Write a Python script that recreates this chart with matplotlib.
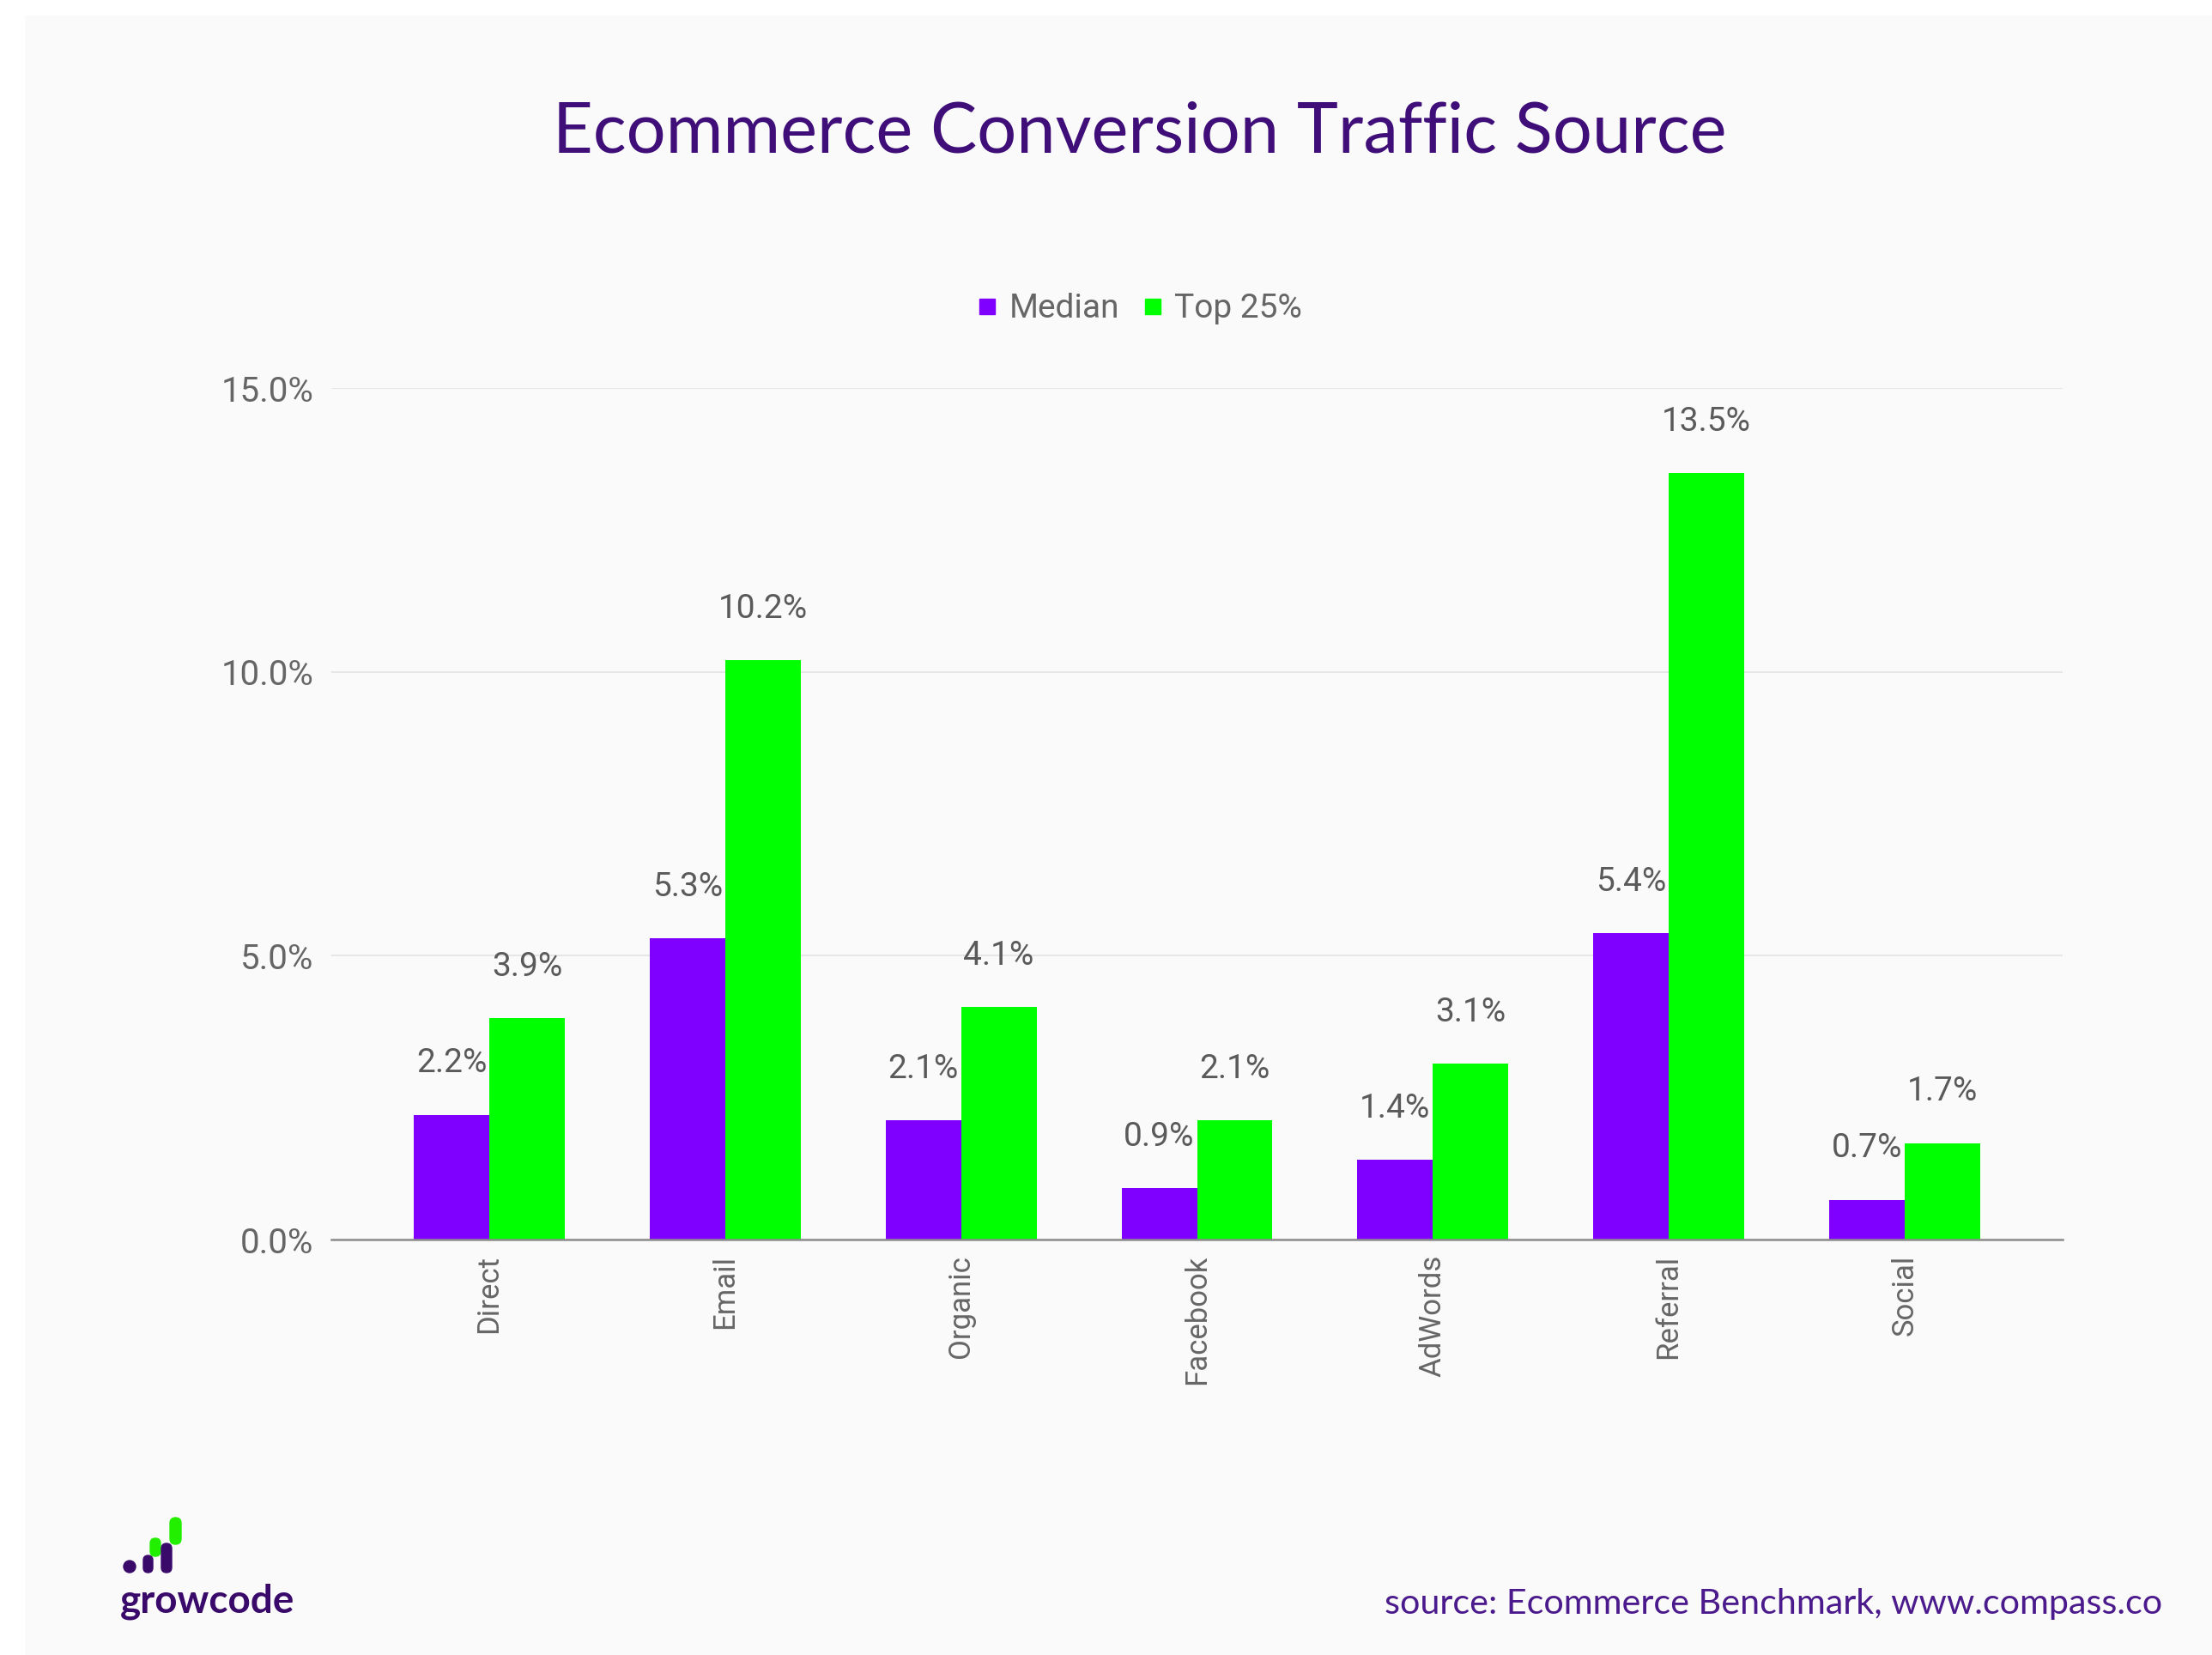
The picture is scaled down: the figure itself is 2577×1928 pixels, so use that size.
import matplotlib
matplotlib.use("Agg")
import matplotlib.pyplot as plt
from matplotlib.patches import Rectangle, FancyBboxPatch, Circle
from matplotlib.lines import Line2D
import numpy as np

# daten
sources = ["Direct", "Email", "Organic", "Facebook", "AdWords", "Referral", "Social"]
median = [2.2, 5.3, 2.1, 0.9, 1.4, 5.4, 0.7]
top25 = [3.9, 10.2, 4.1, 2.1, 3.1, 13.5, 1.7]
yticks = [0, 5, 10, 15]

PURPLE = "#8000ff"
GREEN = "#00ff00"
W, H = 2577, 1928

fig = plt.figure(figsize=(W / 100, H / 100), dpi=100, facecolor="white")
# hellgrauer Hintergrund
fig.patches.append(Rectangle((29 / W, 0), 1, 1 - 18 / H, transform=fig.transFigure,
                             facecolor="#fafafa", edgecolor="none", zorder=-10))

ax = fig.add_axes([386 / W, 1 - 1444 / H, (2403 - 386) / W, (1444 - 452) / H])
ax.set_facecolor("none")

x = np.arange(len(sources))
bw = 0.32
b1 = ax.bar(x - bw / 2, median, bw, color=PURPLE, zorder=3)
b2 = ax.bar(x + bw / 2, top25, bw, color=GREEN, zorder=3)

for bars, vals in [(b1, median), (b2, top25)]:
    for r, v in zip(bars, vals):
        ax.annotate(f"{v:.1f}%", (r.get_x() + r.get_width() / 2, v), xytext=(0, 43),
                    textcoords="offset points", ha="center", va="center",
                    fontsize=28, color="#5a5a5a", family="Roboto", zorder=4)

ax.set_xlim(-0.67, 6.67)
ax.set_ylim(0, 15)
ax.set_yticks(yticks)
ax.set_yticklabels([f"{t:.1f}%" for t in yticks], family="Roboto", fontsize=29, color="#666666")
ax.set_xticks(x)
ax.set_xticklabels(sources, rotation=90, family="Roboto", fontsize=25, color="#666666")
ax.tick_params(axis="y", length=0, pad=15)
ax.tick_params(axis="x", length=0, pad=13)
ax.grid(axis="y", color="#e6e6e6", lw=1.5, zorder=0)
for s in ["left", "right", "top"]:
    ax.spines[s].set_visible(False)
ax.spines["bottom"].set_color("#8c8c8c")
ax.spines["bottom"].set_linewidth(1.8)
ax.spines["bottom"].set_zorder(5)

handles = [Line2D([], [], ls="none", marker="s", markersize=13.5, color=PURPLE),
           Line2D([], [], ls="none", marker="s", markersize=13.5, color=GREEN)]
fig.legend(handles, ["Median", "Top 25%"], loc="center", bbox_to_anchor=(1328 / W, 1 - 360 / H),
           ncol=2, frameon=False, prop={"family": "Roboto", "size": 28}, labelcolor="#666666",
           handlelength=0.6, handletextpad=0.35, columnspacing=0.7)

fig.text(1328 / W, 1 - 155 / H, "Ecommerce Conversion Traffic Source", ha="center", va="center",
         fontsize=58.5, color="#3f0e78", family="Lato")

fig.text(2519 / W, 1 - 1880 / H, "source: Ecommerce Benchmark, www.compass.co", ha="right",
         va="baseline", fontsize=29.7, color="#4b1a8c", family="Lato")

# logo growcode
lg = fig.add_axes([130 / W, 1 - 1900 / H, 220 / W, 150 / H])
lg.set_xlim(130, 350)
lg.set_ylim(1900, 1750)
lg.axis("off")
DARK = "#3a0a6b"
lg.add_patch(Circle((151, 1825), 7, color=DARK))
lg.add_patch(FancyBboxPatch((167, 1812), 11, 20, boxstyle="round,pad=0,rounding_size=5.5", color=DARK))
lg.add_patch(FancyBboxPatch((175, 1792), 12, 21, boxstyle="round,pad=0,rounding_size=6", color="#22ee00"))
lg.add_patch(FancyBboxPatch((188, 1798), 12, 34, boxstyle="round,pad=0,rounding_size=6", color=DARK))
lg.add_patch(FancyBboxPatch((198, 1768), 13, 31, boxstyle="round,pad=0,rounding_size=6.5", color="#22ee00"))
lg.text(140, 1879, "growcode", ha="left", va="baseline", fontsize=33, fontweight="bold",
        color=DARK, family="Lato")

fig.savefig("out.png", dpi=100, facecolor=fig.get_facecolor())
